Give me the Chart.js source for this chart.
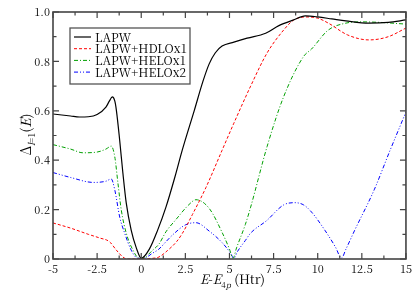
<!DOCTYPE html>
<html>
<head>
<meta charset="utf-8">
<script src="https://cdn.jsdelivr.net/npm/chart.js@4/dist/chart.umd.min.js"></script>
<style>
  html, body { margin: 0; padding: 0; background: #fff; }
  #wrap { width: 415px; height: 298px; }
</style>
</head>
<body>
<div id="wrap"><canvas id="deltaChart" width="415" height="298"></canvas></div>
<script>
// Serien
const seriesNames = ["LAPW", "LAPW+HDLOx1", "LAPW+HELOx1", "LAPW+HELOx2"];

const lapwE = [-5, -4, -3.5, -3, -2.5, -2, -1.8, -1.64, -1.5, -1.41, -1.22, -1.04, -0.85, -0.57, -0.28, 0, 0.46, 0.93, 1.4, 1.9, 2.32, 3, 3.5, 3.85, 4.2, 4.58, 5.25, 6, 7.05, 7.8, 8.6, 9.3, 10, 10.8, 11.6, 12.9, 14, 15];
const lapwD = [0.587, 0.579, 0.575, 0.576, 0.585, 0.615, 0.64, 0.656, 0.64, 0.603, 0.48, 0.348, 0.227, 0.117, 0.045, 0.003, 0.04, 0.117, 0.21, 0.33, 0.44, 0.6, 0.72, 0.79, 0.835, 0.862, 0.878, 0.894, 0.914, 0.945, 0.967, 0.984, 0.98, 0.972, 0.964, 0.955, 0.958, 0.968];

const hdloE = [-5, -4, -3, -2.35, -1.8, -1.41, -1.04, -0.8, -0.4, 0, 0.5, 1, 1.5, 2, 2.34, 2.9, 3.67, 4.58, 5.25, 6.2, 7.13, 8.07, 8.63, 9.3, 10, 10.6, 11.7, 12.9, 14, 15];
const hdloD = [0.146, 0.125, 0.1, 0.085, 0.07, 0.036, 0.008, 0, 0, 0, 0.002, 0.008, 0.035, 0.07, 0.105, 0.18, 0.29, 0.44, 0.55, 0.70, 0.834, 0.927, 0.967, 0.98, 0.975, 0.955, 0.907, 0.887, 0.9, 0.935];

const helo1E = [-5, -4, -3.3, -2.5, -2, -1.7, -1.5, -1.32, -1.13, -0.85, -0.47, -0.1, 0.1, 0.65, 1.0, 1.4, 1.97, 2.7, 3.1, 3.85, 4.6, 5.0, 5.2, 5.4, 5.9, 6.2, 7.13, 8.07, 9.2, 9.65, 10.6, 11.6, 12.5, 13.5, 15];
const helo1D = [0.463, 0.445, 0.43, 0.433, 0.445, 0.457, 0.414, 0.307, 0.198, 0.105, 0.036, 0.002, 0.003, 0.036, 0.06, 0.11, 0.16, 0.22, 0.24, 0.205, 0.105, 0.04, 0.003, 0.045, 0.14, 0.21, 0.455, 0.657, 0.82, 0.85, 0.927, 0.955, 0.96, 0.958, 0.951];

const helo2E = [-5, -4, -2.7, -2, -1.7, -1.5, -1.22, -0.94, -0.57, -0.2, 0.1, 0.65, 1.0, 1.4, 1.77, 2.5, 3.1, 3.85, 4.6, 5.05, 5.25, 5.45, 5.9, 6.2, 7.1, 8.07, 8.7, 9.2, 9.65, 10.4, 11.0, 11.35, 11.6, 12.1, 13.2, 14.1, 15];
const helo2D = [0.35, 0.33, 0.31, 0.315, 0.324, 0.28, 0.17, 0.105, 0.036, 0.003, 0.002, 0.024, 0.04, 0.07, 0.097, 0.138, 0.147, 0.113, 0.065, 0.025, 0.003, 0.03, 0.075, 0.105, 0.155, 0.219, 0.228, 0.219, 0.19, 0.117, 0.049, 0.004, 0.04, 0.117, 0.28, 0.44, 0.595];

const lineColors = ["#000000", "#ff0000", "#00a000", "#0000ff"];
const lineDashes = [[], [3, 2], [4, 2, 1, 2], [4, 2, 1, 2, 1, 2]];

function pts(xs, ys) {
    return xs.map((x, i) => ({ x: x, y: ys[i] }));
}

const SERIF = "'Noto Serif CJK SC'";

// Achsen-Ticks nach innen, Rahmen, Achsentitel und Legende
const gracePlugin = {
    id: "grace",
    afterDatasetsDraw(chart) {
        const ctx = chart.ctx;
        const a = chart.chartArea;
        const xs = chart.scales.x, ys = chart.scales.y;
        ctx.save();
        ctx.setLineDash([]);
        ctx.strokeStyle = "#444";
        ctx.lineWidth = 1.6;
        ctx.strokeRect(a.left, a.top, a.right - a.left, a.bottom - a.top);

        ctx.lineWidth = 1.2;
        ctx.beginPath();
        for (let i = 0; i <= 16; i++) {
            const v = -5 + i * 1.25;
            const px = xs.getPixelForValue(v);
            const len = i % 2 === 0 ? 6 : 3.5;
            ctx.moveTo(px, a.bottom); ctx.lineTo(px, a.bottom - len);
            ctx.moveTo(px, a.top); ctx.lineTo(px, a.top + len);
        }
        for (let i = 0; i <= 10; i++) {
            const v = i * 0.1;
            const py = ys.getPixelForValue(v);
            const len = i % 2 === 0 ? 6 : 3.5;
            ctx.moveTo(a.left, py); ctx.lineTo(a.left + len, py);
            ctx.moveTo(a.right, py); ctx.lineTo(a.right - len, py);
        }
        ctx.stroke();

        // x-Titel: E-E_4p (Htr)
        const xParts = [
            { t: "E", f: "italic 13px " + SERIF, dy: 0 },
            { t: "-", f: "13px " + SERIF, dy: 0 },
            { t: "E", f: "italic 13px " + SERIF, dy: 0 },
            { t: "4", f: "8px " + SERIF, dy: 4 },
            { t: "p", f: "italic 8px " + SERIF, dy: 4 },
            { t: " (Htr)", f: "13px " + SERIF, dy: 0 }
        ];
        drawParts(ctx, xParts, (a.left + a.right) / 2 + 3, 284);

        // y-Titel: Δ_{l=1}(E)
        const yParts = [
            { t: "\u0394", f: "14px " + SERIF, dy: 0 },
            { t: "l", f: "italic 9px " + SERIF, dy: 4 },
            { t: "=1", f: "9px " + SERIF, dy: 4 },
            { t: "(", f: "14px " + SERIF, dy: 0 },
            { t: "E", f: "italic 14px " + SERIF, dy: 0 },
            { t: ")", f: "14px " + SERIF, dy: 0 }
        ];
        ctx.save();
        ctx.translate(31, (a.top + a.bottom) / 2 - 1);
        ctx.rotate(-Math.PI / 2);
        drawParts(ctx, yParts, 0, 0);
        ctx.restore();

        // Legende
        const bx = a.left + 17, by = a.top + 16, bw = 120, bh = 56;
        ctx.fillStyle = "#fff";
        ctx.fillRect(bx, by, bw, bh);
        ctx.strokeStyle = "#555";
        ctx.lineWidth = 1.3;
        ctx.strokeRect(bx, by, bw, bh);
        ctx.font = "12px " + SERIF;
        ctx.textBaseline = "alphabetic";
        ctx.textAlign = "left";
        chart.data.datasets.forEach((ds, i) => {
            const cy = by + 9 + i * 11.7;
            ctx.strokeStyle = ds.borderColor;
            ctx.lineWidth = ds.borderWidth;
            ctx.setLineDash(ds.borderDash);
            ctx.beginPath();
            ctx.moveTo(bx + 4, cy); ctx.lineTo(bx + 21, cy);
            ctx.stroke();
            ctx.setLineDash([]);
            ctx.fillStyle = "#000";
            ctx.fillText(ds.label, bx + 25, cy + 4.5);
        });
        ctx.restore();
    }
};

function drawParts(ctx, parts, cx, baseY) {
    let w = 0;
    parts.forEach(p => { ctx.font = p.f; p.w = ctx.measureText(p.t).width; w += p.w; });
    let x = cx - w / 2;
    ctx.fillStyle = "#000";
    ctx.textAlign = "left";
    ctx.textBaseline = "alphabetic";
    parts.forEach(p => {
        ctx.font = p.f;
        ctx.fillText(p.t, x, baseY + p.dy);
        x += p.w;
    });
}

const allE = [lapwE, hdloE, helo1E, helo2E];
const allD = [lapwD, hdloD, helo1D, helo2D];

new Chart(document.getElementById("deltaChart"), {
    type: "line",
    data: {
        datasets: seriesNames.map((name, i) => ({
            label: name,
            data: pts(allE[i], allD[i]),
            borderColor: lineColors[i],
            borderWidth: i === 0 ? 1.2 : 1,
            borderDash: lineDashes[i],
            pointRadius: 0,
            fill: false,
            cubicInterpolationMode: "monotone"
        }))
    },
    options: {
        responsive: false,
        devicePixelRatio: 1,
        animation: false,
        layout: { padding: { left: 0, right: 7, top: 12, bottom: 0 } },
        plugins: {
            legend: { display: false },
            tooltip: { enabled: false }
        },
        scales: {
            x: {
                type: "linear",
                min: -5,
                max: 15,
                afterFit: s => { s.height = 39; },
                grid: { display: false, drawTicks: false },
                border: { display: false },
                ticks: {
                    stepSize: 2.5,
                    padding: 3,
                    maxRotation: 0,
                    color: "#000",
                    font: { family: SERIF, size: 11 }
                }
            },
            y: {
                min: 0,
                max: 1,
                afterFit: s => { s.width = 53; },
                grid: { display: false, drawTicks: false },
                border: { display: false },
                ticks: {
                    stepSize: 0.2,
                    padding: 3,
                    color: "#000",
                    font: { family: SERIF, size: 11 }
                }
            }
        }
    },
    plugins: [gracePlugin]
});
</script>
</body>
</html>
